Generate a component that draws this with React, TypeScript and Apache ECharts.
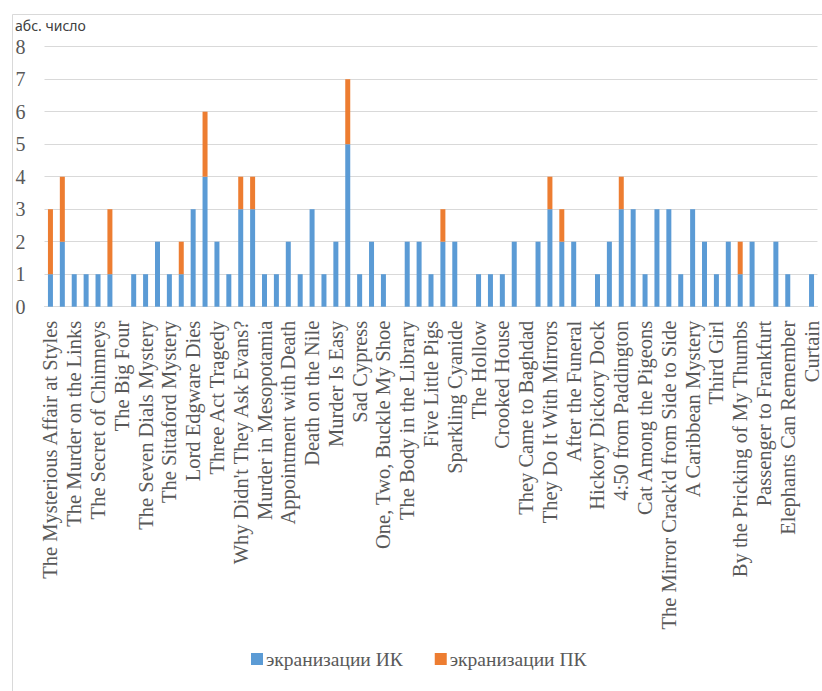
import React, { useEffect, useRef } from "react";
import * as echarts from "echarts";

const categories = [
  "The Mysterious Affair at Styles",
  "The Secret Adversary",
  "The Murder on the Links",
  "The Man in the Brown Suit",
  "The Secret of Chimneys",
  "The Murder of Roger Ackroyd",
  "The Big Four",
  "The Mystery of the Blue Train",
  "The Seven Dials Mystery",
  "The Murder at the Vicarage",
  "The Sittaford Mystery",
  "Peril at End House",
  "Lord Edgware Dies",
  "Murder on the Orient Express",
  "Three Act Tragedy",
  "Death in the Clouds",
  "Why Didn't They Ask Evans?",
  "The A.B.C. Murders",
  "Murder in Mesopotamia",
  "Cards on the Table",
  "Appointment with Death",
  "Dumb Witness",
  "Death on the Nile",
  "Hercule Poirot's Christmas",
  "Murder Is Easy",
  "And Then There Were None",
  "Sad Cypress",
  "Evil Under the Sun",
  "One, Two, Buckle My Shoe",
  "N or M?",
  "The Body in the Library",
  "The Moving Finger",
  "Five Little Pigs",
  "Towards Zero",
  "Sparkling Cyanide",
  "Death Comes as the End",
  "The Hollow",
  "Taken at the Flood",
  "Crooked House",
  "A Murder Is Announced",
  "They Came to Baghdad",
  "Mrs McGinty's Dead",
  "They Do It With Mirrors",
  "A Pocket Full of Rye",
  "After the Funeral",
  "Destination Unknown",
  "Hickory Dickory Dock",
  "Dead Man's Folly",
  "4:50 from Paddington",
  "Ordeal by Innocence",
  "Cat Among the Pigeons",
  "The Pale Horse",
  "The Mirror Crack'd from Side to Side",
  "The Clocks",
  "A Caribbean Mystery",
  "At Bertram's Hotel",
  "Third Girl",
  "Endless Night",
  "By the Pricking of My Thumbs",
  "Hallowe'en Party",
  "Passenger to Frankfurt",
  "Nemesis",
  "Elephants Can Remember",
  "Postern of Fate",
  "Curtain",
];

const seriesIK = [
  1, 2, 1, 1, 1, 1, 0, 1, 1, 2, 1, 1, 3, 4, 2, 1, 3, 3, 1, 1,
  2, 1, 3, 1, 2, 5, 1, 2, 1, 0, 2, 2, 1, 2, 2, 0, 1, 1, 1, 2, 0, 2,
  3, 2, 2, 0, 1, 2, 3, 3, 1, 3, 3, 1, 3, 2, 1, 2, 1, 2, 0, 2, 1, 0, 1,
];

const seriesPK = [
  2, 2, 0, 0, 0, 2, 0, 0, 0, 0, 0, 1, 0, 2, 0, 0, 1, 1, 0, 0,
  0, 0, 0, 0, 0, 2, 0, 0, 0, 0, 0, 0, 0, 1, 0, 0, 0, 0, 0, 0, 0, 0,
  1, 1, 0, 0, 0, 0, 1, 0, 0, 0, 0, 0, 0, 0, 0, 0, 1, 0, 0, 0, 0, 0, 0,
];

const seriesNames = ["экранизации ИК", "экранизации ПК"];
const yTitle = "абс. число";

export default function App() {
  const ref = useRef<HTMLDivElement>(null);
  useEffect(() => {
    if (!ref.current) return;
    const chart = echarts.init(ref.current, null, { renderer: "svg" });
    const serif = "Liberation Serif";
    chart.setOption({
      animation: false,
      backgroundColor: "#ffffff",
      grid: { left: 44.5, right: -1.2, top: 46.7, bottom: 384.3, containLabel: false },
      graphic: [
        {
          type: "rect",
          left: 10,
          top: 12,
          shape: { x: 0, y: 0, width: 900, height: 800 },
          style: { fill: "none", stroke: "#d9d9d9", lineWidth: 1 },
          silent: true,
          z: -1,
        },
        {
          type: "text",
          left: 15,
          top: 18,
          style: {
            text: yTitle,
            fontFamily: "Noto Sans",
            fontSize: 14,
            fill: "#404040",
          },
        },
      ],
      legend: {
        left: 246,
        top: 644,
        itemWidth: 12,
        itemHeight: 12,
        itemGap: 32,
        icon: "rect",
        textStyle: { fontFamily: serif, fontSize: 19.5, color: "#595959", padding: [0, 0, 0, -2] },
        data: seriesNames,
      },
      xAxis: {
        type: "category",
        data: categories,
        axisTick: { show: false },
        axisLine: { lineStyle: { color: "#d9d9d9", width: 1 } },
        axisLabel: {
          interval: 1,
          rotate: 90,
          margin: 14,
          fontFamily: serif,
          fontSize: 20.5,
          color: "#595959",
        },
      },
      yAxis: {
        type: "value",
        min: 0,
        max: 8,
        interval: 1,
        axisLine: { show: false },
        axisTick: { show: false },
        splitLine: { lineStyle: { color: "#d9d9d9", width: 1 } },
        axisLabel: {
          margin: 19,
          fontFamily: serif,
          fontSize: 20,
          color: "#595959",
        },
      },
      series: [
        {
          name: seriesNames[0],
          type: "bar",
          stack: "total",
          data: seriesIK,
          barWidth: 5,
          itemStyle: { color: "#5B9BD5" },
        },
        {
          name: seriesNames[1],
          type: "bar",
          stack: "total",
          data: seriesPK,
          barWidth: 5,
          itemStyle: { color: "#ED7D31" },
        },
      ],
    });
    return () => chart.dispose();
  }, []);
  return (
    <div
      ref={ref}
      style={{ position: "fixed", left: 0, top: 0, width: 822, height: 691, background: "#fff" }}
    />
  );
}
